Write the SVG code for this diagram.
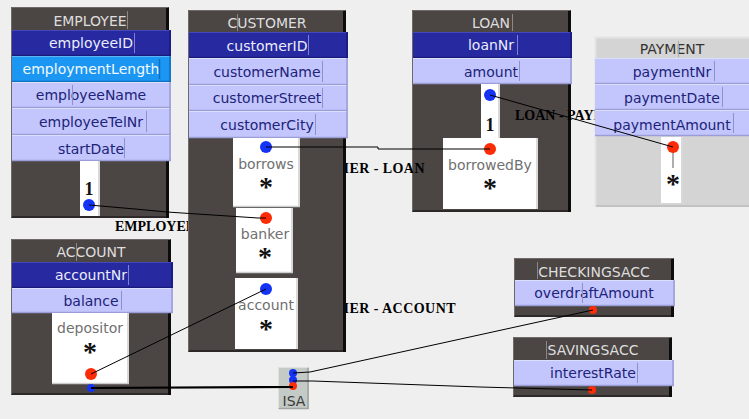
<svg xmlns="http://www.w3.org/2000/svg" width="749" height="419" viewBox="0 0 749 419">
<style>
text{font-family:"DejaVu Sans","Liberation Sans",sans-serif;font-size:14px;text-anchor:middle}
.frame{fill:#4b4544}
.fhi{fill:none;stroke:#6f6968;stroke-width:1}
.fsh{fill:none;stroke:#0c0c0c;stroke-width:3}
.fbt{fill:none;stroke:#2d2928;stroke-width:2}
.title{fill:#dedede}
.lt{fill:#c3c6fc}
.dk{fill:#2629a0}
.br{fill:#1b96f3}
.hi-lt{fill:none;stroke:#dcdefe;stroke-width:1}
.sh-lt{fill:none;stroke:#9a9dd6;stroke-width:1.5}
.hi-dk{fill:none;stroke:#4548bb;stroke-width:1}
.sh-dk{fill:none;stroke:#181a7c;stroke-width:1.5}
.hi-br{fill:none;stroke:#5db5f8;stroke-width:1}
.sh-br{fill:none;stroke:#0f6fc0;stroke-width:1.5}
.tlt{fill:#20227a}
.tdk{fill:#ececfa}
.tbr{fill:#f4faff}
.cur-t{stroke:#8d8786;stroke-width:1}
.cur-l{stroke:#8e91c8;stroke-width:1}
.cur-d{stroke:#7f82d0;stroke-width:1}
.wb{fill:#ffffff}
.wsh{fill:none;stroke:#cdcdcd;stroke-width:1.5}
.role{fill:#707070}
.star{font-family:"Liberation Serif",serif;font-weight:bold;font-size:28px;fill:#111}
.one{font-family:"Liberation Serif",serif;font-weight:bold;font-size:18px;fill:#111}
.lbl{font-family:"Liberation Serif",serif;font-weight:bold;font-size:14px;fill:#000;text-anchor:start}
.lble{text-anchor:end;letter-spacing:0.45px}
.blue{fill:#1533f5}
.red{fill:#fb2c06}
.conn{fill:none;stroke:#000;stroke-width:1}
.thick{fill:none;stroke:#000;stroke-width:2.2}
</style>
<rect x="0" y="0" width="749" height="419" fill="#efefef"/>

<g id="employee">
<rect class="frame" x="11" y="7" width="158" height="211"/>
<path class="fhi" d="M11.5 217V7.5H168"/>
<path class="fbt" d="M12 217H168"/>
<path class="fsh" d="M167.5 8V218"/>
<text class="title" x="90" y="26">EMPLOYEE</text>
<line class="cur-t" x1="127.5" y1="11" x2="127.5" y2="29"/>
<rect class="dk" x="12" y="30" width="159" height="26"/><path class="hi-dk" d="M12 30.5H171"/><path class="sh-dk" d="M170 30V56M12 55.5H171"/>
<text class="tdk" x="91" y="48">employeeID</text><line class="cur-d" x1="134.5" y1="33" x2="134.5" y2="53"/>
<rect class="br" x="12" y="56" width="159" height="26"/><path class="hi-br" d="M12 56.5H171"/><path class="sh-br" d="M170 56V82M12 81.5H171"/>
<text class="tbr" x="91" y="74">employmentLength</text><line class="sh-br" x1="159.5" y1="59" x2="159.5" y2="79"/>
<rect class="lt" x="12" y="82" width="159" height="26"/><path class="hi-lt" d="M12 82.5H171"/><path class="sh-lt" d="M170 82V108M12 107.5H171"/>
<text class="tlt" x="91" y="100">employeeName</text><line class="cur-l" x1="72.5" y1="85" x2="72.5" y2="105"/>
<rect class="lt" x="12" y="108" width="159" height="27"/><path class="hi-lt" d="M12 108.5H171"/><path class="sh-lt" d="M170 108V135M12 134.5H171"/>
<text class="tlt" x="91" y="127">employeeTelNr</text><line class="cur-l" x1="146.5" y1="111" x2="146.5" y2="132"/>
<rect class="lt" x="12" y="135" width="159" height="26"/><path class="hi-lt" d="M12 135.5H171"/><path class="sh-lt" d="M170 135V161M12 160.5H171"/>
<text class="tlt" x="91" y="154">startDate</text><line class="cur-l" x1="124.5" y1="138" x2="124.5" y2="158"/>
<rect class="wb" x="80" y="161" width="20" height="55"/><path class="wsh" d="M99 161V216"/>
<text class="one" x="89" y="195">1</text>
<circle class="blue" cx="89" cy="205" r="6"/>
</g>

<g id="account">
<rect class="frame" x="11" y="239" width="160" height="156"/>
<path class="fhi" d="M11.5 394V239.5H170"/>
<path class="fbt" d="M12 394H170"/>
<path class="fsh" d="M169.5 240V395"/>
<text class="title" x="91" y="257">ACCOUNT</text>
<line class="cur-t" x1="76.5" y1="243" x2="76.5" y2="261"/>
<rect class="dk" x="12" y="262" width="161" height="26"/><path class="hi-dk" d="M12 262.5H173"/><path class="sh-dk" d="M172 262V288M12 287.5H173"/>
<text class="tdk" x="91" y="280">accountNr</text><line class="cur-d" x1="128.5" y1="265" x2="128.5" y2="285"/>
<rect class="lt" x="12" y="288" width="161" height="25"/><path class="hi-lt" d="M12 288.5H173"/><path class="sh-lt" d="M172 288V313M12 312.5H173"/>
<text class="tlt" x="91" y="306">balance</text><line class="cur-l" x1="121.5" y1="291" x2="121.5" y2="310"/>
<rect class="wb" x="52" y="313" width="77" height="71"/><path class="wsh" d="M128 313V384M52 383.5H129"/>
<text class="role" x="90" y="333">depositor</text>
<text class="star" x="90" y="361">*</text>
<circle class="red" cx="91" cy="374" r="6"/>
<circle class="blue" cx="91" cy="388" r="4"/>
</g>

<g id="loan">
<rect class="frame" x="412" y="10" width="159" height="202"/>
<path class="fhi" d="M412.5 211V10.5H570"/>
<path class="fbt" d="M413 211H570"/>
<path class="fsh" d="M569.5 11V212"/>
<text class="title" x="491" y="28">LOAN</text>
<line class="cur-t" x1="512.5" y1="14" x2="512.5" y2="31"/>
<rect class="dk" x="413" y="32" width="159" height="26"/><path class="hi-dk" d="M413 32.5H572"/><path class="sh-dk" d="M571 32V58M413 57.5H572"/>
<text class="tdk" x="491" y="50">loanNr</text><line class="cur-d" x1="517.5" y1="35" x2="517.5" y2="55"/>
<rect class="lt" x="413" y="58" width="159" height="26"/><path class="hi-lt" d="M413 58.5H572"/><path class="sh-lt" d="M571 58V84M413 83.5H572"/>
<text class="tlt" x="491" y="77">amount</text><line class="cur-l" x1="519.5" y1="61" x2="519.5" y2="81"/>
<rect class="wb" x="481" y="84" width="19" height="54"/><path class="wsh" d="M499 84V138"/>
<text class="one" x="490" y="131">1</text>
<circle class="blue" cx="490" cy="95" r="6"/>
<rect class="wb" x="443" y="138" width="95" height="71"/><path class="wsh" d="M537 138V209"/>
<text class="role" x="490" y="170">borrowedBy</text>
<text class="star" x="490" y="197">*</text>
<circle class="red" cx="490" cy="149" r="6"/>
</g>

<g id="labels">
<text class="lbl" x="115" y="231">EMPLOYEE</text>
<text class="lbl lble" x="425" y="173">MER - LOAN</text>
<text class="lbl lble" x="456" y="313">MER - ACCOUNT</text>
<text class="lbl" x="515" y="120">LOAN - PAYMENT</text>
</g>

<g id="customer">
<rect class="frame" x="188" y="10" width="158" height="342"/>
<path class="fhi" d="M188.5 351V10.5H345"/>
<path class="fbt" d="M189 351H345"/>
<path class="fsh" d="M344.5 11V352"/>
<text class="title" x="267" y="28">CUSTOMER</text>
<line class="cur-t" x1="237.5" y1="14" x2="237.5" y2="31"/>
<rect class="dk" x="189" y="32" width="159" height="26"/><path class="hi-dk" d="M189 32.5H348"/><path class="sh-dk" d="M347 32V58M189 57.5H348"/>
<text class="tdk" x="267" y="51">customerID</text><line class="cur-d" x1="308.5" y1="35" x2="308.5" y2="55"/>
<rect class="lt" x="189" y="58" width="159" height="27"/><path class="hi-lt" d="M189 58.5H348"/><path class="sh-lt" d="M347 58V85M189 84.5H348"/>
<text class="tlt" x="267" y="77">customerName</text><line class="cur-l" x1="322.5" y1="61" x2="322.5" y2="82"/>
<rect class="lt" x="189" y="85" width="159" height="26"/><path class="hi-lt" d="M189 85.5H348"/><path class="sh-lt" d="M347 85V111M189 110.5H348"/>
<text class="tlt" x="267" y="103">customerStreet</text><line class="cur-l" x1="322.5" y1="88" x2="322.5" y2="108"/>
<rect class="lt" x="189" y="111" width="159" height="27"/><path class="hi-lt" d="M189 111.5H348"/><path class="sh-lt" d="M347 111V138M189 137.5H348"/>
<text class="tlt" x="267" y="130">customerCity</text><line class="cur-l" x1="315.5" y1="114" x2="315.5" y2="135"/>
<rect class="wb" x="233" y="138" width="67" height="69"/><path class="wsh" d="M299 138V207M233 206.5H300"/>
<text class="role" x="266" y="169">borrows</text>
<text class="star" x="266" y="196">*</text>
<circle class="blue" cx="266" cy="147" r="6"/>
<rect class="wb" x="236" y="208" width="57" height="65"/><path class="wsh" d="M292 208V273M236 272.5H293"/>
<text class="role" x="265" y="239">banker</text>
<text class="star" x="265" y="266">*</text>
<circle class="red" cx="266" cy="218" r="6"/>
<rect class="wb" x="235" y="278" width="63" height="71"/><path class="wsh" d="M297 278V349"/>
<text class="role" x="266" y="310">account</text>
<text class="star" x="266" y="338">*</text>
<circle class="blue" cx="266" cy="289" r="6"/>
</g>

<g id="payment">
<rect x="595" y="37" width="160" height="170" fill="#d4d4d4"/>
<path d="M595.5 207V37.5H755" fill="none" stroke="#e4e4e4" stroke-width="2"/>
<path d="M596 206H755" fill="none" stroke="#bdbdbd" stroke-width="1.5"/>
<text x="672" y="54" fill="#333333">PAYMENT</text>
<line x1="678.5" y1="41" x2="678.5" y2="57" stroke="#a8a8a8" stroke-width="1"/>
<rect class="lt" x="595" y="58" width="160" height="26"/><path class="hi-lt" d="M595 58.5H755"/><path class="sh-lt" d="M595 83.5H755"/>
<text class="tlt" x="672" y="77">paymentNr</text><line class="cur-l" x1="714.5" y1="61" x2="714.5" y2="81"/>
<rect class="lt" x="595" y="84" width="160" height="26"/><path class="hi-lt" d="M595 84.5H755"/><path class="sh-lt" d="M595 109.5H755"/>
<text class="tlt" x="672" y="103">paymentDate</text><line class="cur-l" x1="722.5" y1="87" x2="722.5" y2="107"/>
<rect class="lt" x="595" y="110" width="160" height="26"/><path class="hi-lt" d="M595 110.5H755"/><path class="sh-lt" d="M595 135.5H755"/>
<text class="tlt" x="672" y="130">paymentAmount</text><line class="cur-l" x1="733.5" y1="113" x2="733.5" y2="133"/>
<rect class="wb" x="661" y="137" width="22" height="66"/><path class="wsh" d="M682 137V203"/>
<line x1="673" y1="147" x2="673" y2="168" stroke="#777777" stroke-width="1.2"/>
<text class="star" x="673" y="193">*</text>
<circle class="red" cx="673" cy="147" r="6"/>
</g>

<g id="checkingsacc">
<rect class="frame" x="514" y="258" width="160" height="59"/>
<path class="fhi" d="M514.5 316V258.5H673"/>
<path class="fbt" d="M515 316H673"/>
<path class="fsh" d="M672.5 259V317"/>
<text class="title" x="594" y="277">CHECKINGSACC</text>
<line class="cur-t" x1="537.5" y1="262" x2="537.5" y2="279"/>
<rect class="lt" x="515" y="280" width="160" height="26"/><path class="hi-lt" d="M515 280.5H675"/><path class="sh-lt" d="M674 280V306M515 305.5H675"/>
<text class="tlt" x="594" y="298">overdraftAmount</text><line class="cur-l" x1="582.5" y1="283" x2="582.5" y2="303"/>
<circle class="red" cx="593" cy="310" r="4"/>
</g>

<g id="savingsacc">
<rect class="frame" x="513" y="337" width="159" height="60"/>
<path class="fhi" d="M513.5 396V337.5H671"/>
<path class="fbt" d="M514 396H671"/>
<path class="fsh" d="M670.5 338V397"/>
<text class="title" x="593" y="355">SAVINGSACC</text>
<line class="cur-t" x1="546.5" y1="341" x2="546.5" y2="359"/>
<rect class="lt" x="514" y="360" width="160" height="26"/><path class="hi-lt" d="M514 360.5H674"/><path class="sh-lt" d="M673 360V386M514 385.5H674"/>
<text class="tlt" x="593" y="378">interestRate</text><line class="cur-l" x1="637.5" y1="363" x2="637.5" y2="383"/>
<circle class="red" cx="592" cy="390" r="4"/>
</g>

<g id="isa">
<rect x="278" y="367" width="31" height="42" fill="#c4cac6"/>
<path d="M278.5 408V367.5H308" fill="none" stroke="#dde2de" stroke-width="1"/>
<path d="M308 368V408.5H279" fill="none" stroke="#9ea4a0" stroke-width="1.5"/>
<text x="294" y="406" fill="#3a3a3a">ISA</text>
<circle class="blue" cx="293" cy="373" r="4"/>
<circle class="blue" cx="293" cy="380" r="4"/>
<circle class="red" cx="293" cy="386" r="4"/>
</g>

<g id="connectors">
<polyline class="conn" points="89,205 135,209 167,212 258,218 266,218"/>
<polyline class="conn" points="266,147 378,147 378,149 490,149"/>
<line class="conn" x1="490" y1="95" x2="673" y2="147"/>
<line class="conn" x1="266" y1="289" x2="91" y2="374"/>
<line class="thick" x1="91" y1="388" x2="293" y2="387"/>
<polyline class="conn" points="293,373 310,372 593,310"/>
<polyline class="conn" points="293,381 313,381 480,387 592,390"/>
</g>
</svg>
